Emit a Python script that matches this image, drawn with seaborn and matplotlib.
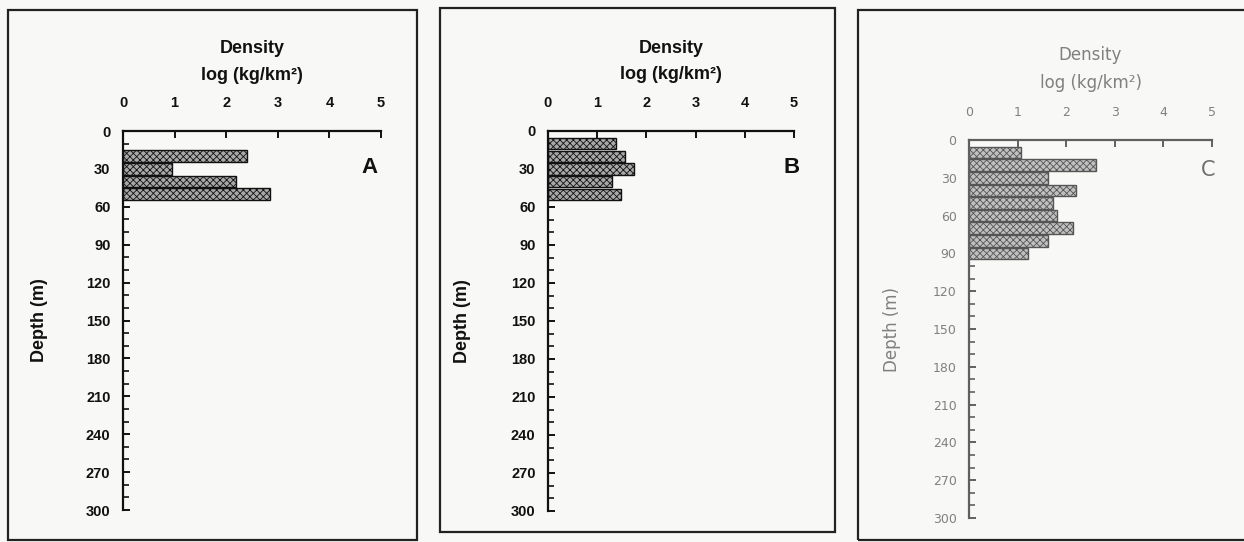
import matplotlib
matplotlib.use("Agg")
import matplotlib.pyplot as plt
import seaborn as sns
from matplotlib.patches import Rectangle
from matplotlib.ticker import MultipleLocator

sns.set_theme(style="ticks")
plt.rcParams['font.family'] = ['Liberation Sans', 'DejaVu Sans']
plt.rcParams['hatch.linewidth'] = 0.6

# depth bin centres (m) and log density per panel
depth_a = [20, 30, 40, 50]
dens_a = [2.41, 0.94, 2.19, 2.84]
depth_b = [10, 20, 30, 40, 50]
dens_b = [1.39, 1.56, 1.74, 1.31, 1.48]
depth_c = [10, 20, 30, 40, 50, 60, 70, 80, 90]
dens_c = [1.06, 2.61, 1.63, 2.21, 1.73, 1.81, 2.14, 1.63, 1.22]

x_ticks = [0, 1, 2, 3, 4, 5]
W, H = 1244, 542

fig = plt.figure(figsize=(W / 100, H / 100), dpi=100, facecolor='#f8f8f6')


def px_axes(left, right, top, bottom):
    return fig.add_axes([left / W, (H - bottom) / H, (right - left) / W, (bottom - top) / H])


def frame(x0, y0, x1, y1):
    fig.patches.append(Rectangle((x0 / W, (H - y1) / H), (x1 - x0) / W, (y1 - y0) / H,
                                 transform=fig.transFigure, fill=False, lw=1.6,
                                 edgecolor='#222222', clip_on=False))


def panel(ax, depths, vals, faded=False):
    ink = '#808080' if faded else '#111111'
    line = '#606060' if faded else '#111111'
    weight = 'normal' if faded else 'bold'
    fam = ['DejaVu Sans'] if faded else ['Liberation Sans']
    sns.barplot(x=vals, y=depths, orient='h', native_scale=True, width=0.92,
                color='#c0c0c0' if faded else '#a8a8a8', errorbar=None,
                edgecolor='#555555' if faded else '#111111', linewidth=1, ax=ax)
    for p in ax.patches:
        p.set_hatch('xxxxx')
    ax.set_facecolor('none')
    ax.set_xlim(0, 5)
    ax.set_ylim(300, 0)
    ax.xaxis.tick_top()
    ax.xaxis.set_label_position('top')
    ax.set_xticks(x_ticks)
    ax.yaxis.set_major_locator(MultipleLocator(30))
    ax.yaxis.set_minor_locator(MultipleLocator(10))
    for s in ['right', 'bottom']:
        ax.spines[s].set_visible(False)
    for s in ['left', 'top']:
        ax.spines[s].set_linewidth(1.6)
        ax.spines[s].set_color(line)
    ax.tick_params(axis='x', direction='in', length=5, width=1.4, pad=15,
                   colors=line, labelcolor=ink)
    ax.tick_params(axis='y', which='major', direction='in', length=5, width=1.4, pad=9,
                   colors=line, labelcolor=ink)
    ax.tick_params(axis='y', which='minor', direction='in', length=4, width=1.2,
                   colors=line)
    for lab in ax.get_xticklabels() + ax.get_yticklabels():
        lab.set_fontsize(9 if faded else 10.5)
        lab.set_fontweight(weight)
        lab.set_family(fam)
    ax.set_xlabel('Density\nlog (kg/km²)', fontsize=12 if faded else 13,
                  fontweight=weight, color=ink, family=fam,
                  linespacing=1.75, labelpad=13 if faded else 12)
    ax.set_ylabel('Depth (m)', fontsize=12 if faded else 13, fontweight=weight,
                  color=ink, family=fam)
    ax.grid(False)
    return ink


ax_a = px_axes(123, 381, 131, 510)
ink = panel(ax_a, depth_a, dens_a)
ax_a.yaxis.set_label_coords(-0.29, 0.5)
ax_a.text(0.957, 0.905, 'A', transform=ax_a.transAxes, ha='center', va='center',
          fontsize=16, fontweight='bold', color=ink)

ax_b = px_axes(548, 794, 131, 511)
ink = panel(ax_b, depth_b, dens_b)
ax_b.yaxis.set_label_coords(-0.315, 0.5)
ax_b.text(0.99, 0.905, 'B', transform=ax_b.transAxes, ha='center', va='center',
          fontsize=16, fontweight='bold', color=ink)

ax_c = px_axes(969, 1212, 140, 518)
ink = panel(ax_c, depth_c, dens_c, faded=True)
ax_c.yaxis.set_label_coords(-0.28, 0.5)
ax_c.text(0.985, 0.92, 'C', transform=ax_c.transAxes, ha='center', va='center',
          fontsize=15, color='#707070', family=['DejaVu Sans'])

frame(8, 10, 417, 540)
frame(440, 8, 835, 532)
frame(858, 10, 1252, 540)

fig.savefig('out.png', dpi=100, facecolor=fig.get_facecolor())
